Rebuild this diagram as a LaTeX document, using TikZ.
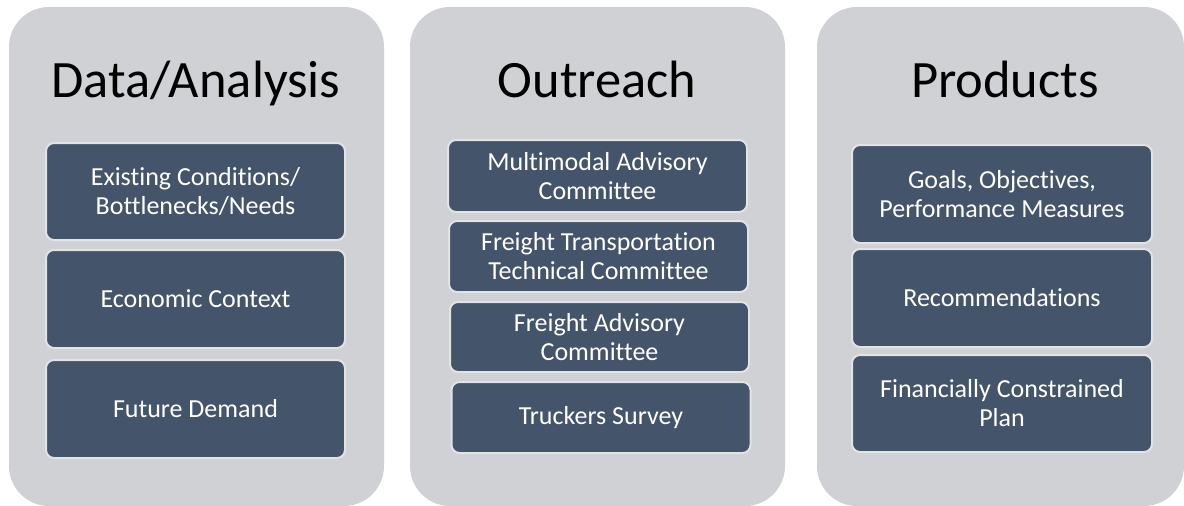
\documentclass[tikz,border=0pt]{standalone}
\usepackage{fontspec}
\setmainfont[Ligatures=NoCommon]{Carlito}
\definecolor{panelgray}{HTML}{D0D1D5}
\definecolor{boxfill}{HTML}{44546A}
\definecolor{boxedge}{HTML}{E2E3E5}
\begin{document}
\begin{tikzpicture}[x=1pt,y=-1pt,
  panel/.style={draw=none,fill=panelgray,rounded corners=40pt,minimum width=375pt,minimum height=499pt,inner sep=0pt},
  title/.style={anchor=base,font=\fontsize{52.5}{60}\selectfont,text=black},
  item/.style={draw=boxedge,line width=2pt,fill=boxfill,rounded corners=8pt,text=white,align=center,
    font=\fontsize{26}{29}\selectfont,inner sep=0pt,minimum width=299pt}]
\useasboundingbox (0,0) rectangle (1184,506);
\fill[white] (0,0) rectangle (1184,506);
% panels
\node[panel] (p1) at (196.5,256.5) {};
\node[panel] (p2) at (597.5,256.5) {};
\node[panel,minimum width=367pt] (p3) at (1000.5,256.5) {};
% titles
\node[title] (t1) at (196,97) {Data/Analysis};
\node[title] (t2) at (597,97) {Outreach};
\node[title] (t3) at (1005,97) {Products};
% panel 1 boxes
\node[item,minimum height=97pt] (a1) at (195.5,191.5) {Existing Conditions/\\Bottlenecks/Needs};
\node[item,minimum height=98pt] (a2) at (195.5,299) {Economic Context};
\node[item,minimum height=98pt] (a3) at (195.5,409) {Future Demand};
% panel 2 boxes
\node[item,minimum height=72pt] (b1) at (597.5,176) {Multimodal Advisory\\Committee};
\node[item,minimum height=71pt] (b2) at (598.5,256.5) {Freight Transportation\\Technical Committee};
\node[item,minimum height=70pt] (b3) at (599.5,337) {Freight Advisory\\Committee};
\node[item,minimum height=71pt] (b4) at (601,417.5) {Truckers Survey};
% panel 3 boxes
\node[item,minimum width=300pt,minimum height=98pt] (c1) at (1002,194) {Goals, Objectives,\\Performance Measures};
\node[item,minimum width=300pt,minimum height=98pt] (c2) at (1002,298) {Recommendations};
\node[item,minimum width=300pt,minimum height=97pt] (c3) at (1002,403.5) {Financially Constrained\\Plan};
\end{tikzpicture}
\end{document}
